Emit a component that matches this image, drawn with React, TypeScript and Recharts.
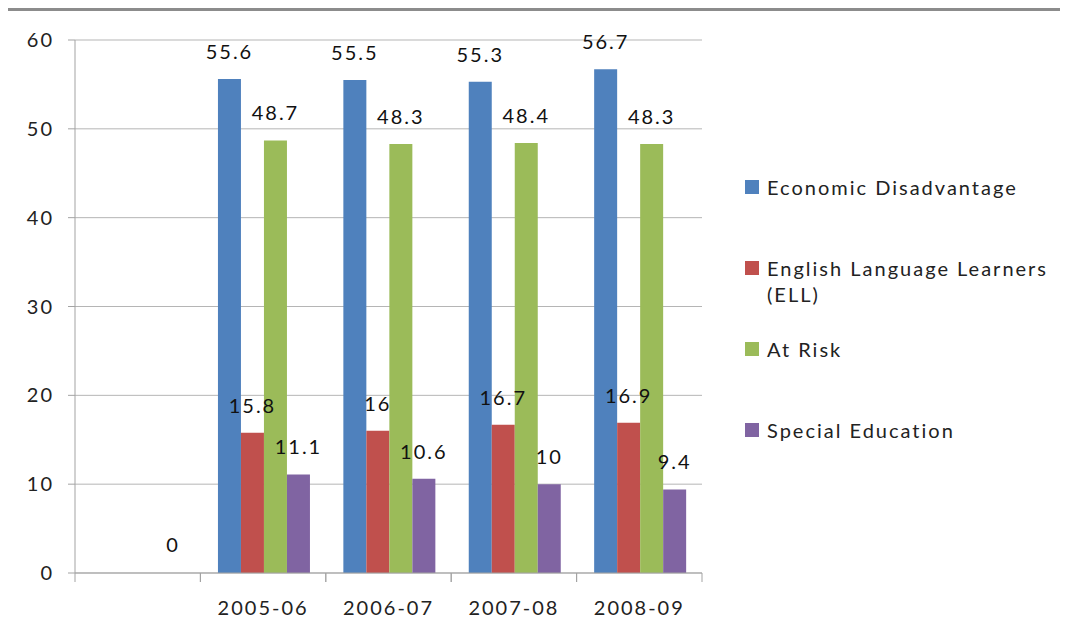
import {
  Bar,
  BarChart,
  CartesianGrid,
  LabelList,
  Legend,
  Rectangle,
  XAxis,
  YAxis,
} from "recharts";

const years = ["", "2005-06", "2006-07", "2007-08", "2008-09"];
const economic = [null, 55.6, 55.5, 55.3, 56.7];
const ell = [null, 15.8, 16, 16.7, 16.9];
const atRisk = [null, 48.7, 48.3, 48.4, 48.3];
const specialEd = [0, 11.1, 10.6, 10, 9.4];
const yTicks = [0, 10, 20, 30, 40, 50, 60];

const series = [
  { key: "economic", name: "Economic Disadvantage", color: "#4f81bd" },
  { key: "ell", name: "English Language Learners (ELL)", color: "#c0504d" },
  { key: "atRisk", name: "At Risk", color: "#9bbb59" },
  { key: "specialEd", name: "Special Education", color: "#8064a2" },
];

const data = years.map((year, i) => ({
  year,
  economic: economic[i],
  ell: ell[i],
  atRisk: atRisk[i],
  specialEd: specialEd[i],
}));

const FONT = "Lato, 'Open Sans', sans-serif";
const AXIS = "#a3a3a3";
const LS = 2;

const CategoryTick = (props: any) => {
  const { x, y, payload } = props;
  const half = payload.offset ?? 62.7;
  return (
    <g>
      <line x1={x - half} x2={x - half} y1={y} y2={y + 9} stroke={AXIS} />
      <line x1={x + half} x2={x + half} y1={y} y2={y + 9} stroke={AXIS} />
      <text
        x={x}
        y={y + 42}
        textAnchor="middle"
        fill="#222"
        fontSize={20}
        letterSpacing={LS}
        fontFamily={FONT}
      >
        {payload.value}
      </text>
    </g>
  );
};

// a zero bar is kept (so its "0" label shows) but drawn empty
const BarShape = (props: any) =>
  props.value === 0 ? <g /> : <Rectangle {...props} />;

const renderLegend = () => (
  <div style={{ fontFamily: FONT, fontSize: 20, letterSpacing: LS, color: "#222", textAlign: "left" }}>
    {series.map((s) => (
      <div key={s.key} style={{ height: 81, display: "flex", alignItems: "flex-start" }}>
        <span
          style={{
            width: 14,
            height: 14,
            background: s.color,
            marginTop: 6,
            marginRight: 8,
            flex: "none",
          }}
        />
        <span style={{ width: 300, lineHeight: "26px" }}>{s.name}</span>
      </div>
    ))}
  </div>
);

export default function App() {
  return (
    <div
      style={{
        width: 1062,
        height: 623,
        marginLeft: -2,
        borderTop: "3px solid #8c8c8c",
        borderLeft: "2px solid #8c8c8c",
        background: "#fff",
      }}
    >
      <BarChart
        width={1060}
        height={620}
        data={data}
        margin={{ top: 29, right: 366, left: 0, bottom: 18 }}
        barCategoryGap="14%"
        barGap={0}
      >
        <CartesianGrid vertical={false} stroke="#b5b5b5" />
        <XAxis
          dataKey="year"
          interval={0}
          height={40}
          stroke={AXIS}
          tickLine={false}
          tickSize={0}
          tickMargin={0}
          tick={<CategoryTick />}
        />
        <YAxis
          domain={[0, 60]}
          ticks={yTicks}
          width={67}
          stroke={AXIS}
          tickSize={7}
          tickMargin={14}
          tick={{ fill: "#222", fontSize: 20, fontFamily: FONT, letterSpacing: LS }}
        />
        <Legend
          layout="vertical"
          align="center"
          verticalAlign="middle"
          content={renderLegend}
          wrapperStyle={{ left: 737, top: 163, width: 320 }}
        />
        {series.map((s) => (
          <Bar
            key={s.key}
            dataKey={s.key}
            name={s.name}
            fill={s.color}
            minPointSize={(v: any) => (v === 0 ? 1 : 0)}
            shape={BarShape}
            isAnimationActive={false}
          >
            <LabelList
              dataKey={s.key}
              position="top"
              offset={20}
              fill="#111"
              fontSize={20}
              fontFamily={FONT}
              letterSpacing={LS}
            />
          </Bar>
        ))}
      </BarChart>
    </div>
  );
}
